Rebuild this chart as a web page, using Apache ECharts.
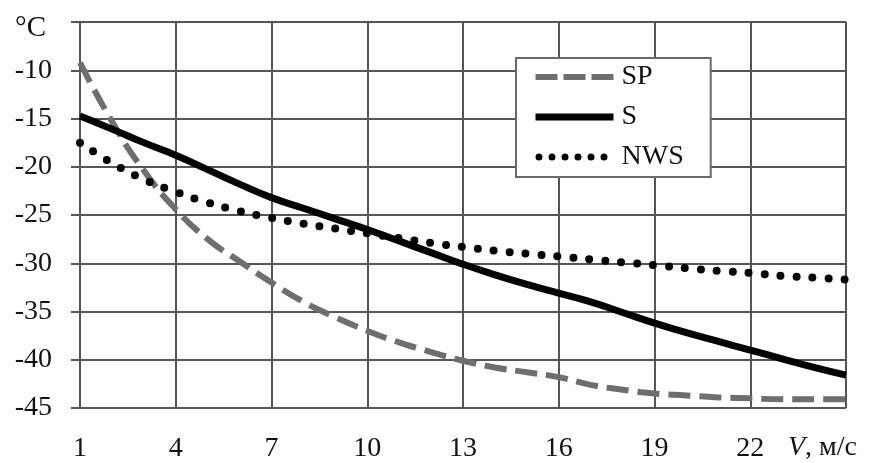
<!DOCTYPE html>
<html>
<head>
<meta charset="utf-8">
<script src="https://cdn.jsdelivr.net/npm/echarts@6/dist/echarts.min.js"></script>
<style>
html,body{margin:0;padding:0;background:#fff;}
#chart{width:872px;height:463px;}
</style>
</head>
<body>
<div id="chart"></div>
<script>
// Wind speed V, m/s
const speeds = [1,2,3,4,5,6,7,8,9,10,11,12,13,14,15,16,17,18,19,20,21,22,23,24,25];
// Temperature, °C
const spValues = [-9.2,-15.3,-20.4,-24.4,-27.5,-29.8,-32.0,-34.0,-35.6,-37.0,-38.2,-39.2,-40.1,-40.8,-41.3,-41.8,-42.6,-43.1,-43.5,-43.7,-43.9,-44.0,-44.1,-44.1,-44.1];
const sValues = [-14.75,-16.1,-17.5,-18.8,-20.3,-21.8,-23.2,-24.3,-25.4,-26.5,-27.7,-28.9,-30.1,-31.2,-32.2,-33.1,-34.0,-35.1,-36.2,-37.2,-38.1,-39.0,-39.9,-40.8,-41.6];
const nwsValues = [-17.5,-19.6,-21.3,-22.6,-23.7,-24.6,-25.3,-25.9,-26.4,-26.9,-27.4,-27.9,-28.3,-28.7,-29.0,-29.3,-29.6,-29.9,-30.2,-30.5,-30.8,-31.0,-31.3,-31.5,-31.7];
const seriesNames = ['SP','S','NWS'];
const yTopLabel = '°C';
const xAxisTitle = 'V';
const xAxisUnit = ', м/с';

const FONT = '"Liberation Serif", "Times New Roman", serif';
const GRIDC = '#555555';
const SPC = '#6e6e6e';

const chart = echarts.init(document.getElementById('chart'), null, {renderer:'canvas'});
chart.setOption({
  backgroundColor: '#ffffff',
  animation: false,
  grid: {left: 80, right: 26, top: 22, bottom: 54, containLabel: false},
  legend: {
    orient: 'vertical',
    left: 516, top: 58,
    padding: [5, 27, 6, 16],
    itemWidth: 78, itemHeight: 14, itemGap: 12,
    backgroundColor: '#ffffff',
    borderColor: '#6a6a6a', borderWidth: 2,
    itemStyle: {opacity: 0},
    textStyle: {fontFamily: FONT, fontSize: 28, color: '#111', lineHeight: 26, padding: [0,0,0,3]},
    data: [
      {name: seriesNames[0], lineStyle: {color: SPC, width: 6, type: [22, 6], cap: 'butt'}},
      {name: seriesNames[1], lineStyle: {color: '#000', width: 7, type: 'solid', cap: 'butt'}},
      {name: seriesNames[2], lineStyle: {color: '#000', width: 7, type: [0, 13], cap: 'round', dashOffset: -3.5}}
    ]
  },
  xAxis: {
    type: 'category',
    data: speeds.map(String),
    boundaryGap: false,
    axisLine: {show: false},
    axisTick: {show: false},
    axisLabel: {
      interval: 2, margin: 27,
      fontFamily: FONT, fontSize: 28, color: '#111',
      formatter: function (v, i) { return i === speeds.length - 1 ? '' : v; }
    },
    splitLine: {show: true, interval: 2, lineStyle: {color: GRIDC, width: 2}},
    name: '{i|' + xAxisTitle + '}' + xAxisUnit,
    nameLocation: 'end',
    nameGap: -58,
    nameTextStyle: {
      fontFamily: FONT, fontSize: 28, color: '#111',
      verticalAlign: 'top', align: 'left', padding: [26,0,0,0],
      rich: {i: {fontFamily: FONT, fontSize: 28, fontStyle: 'italic', color: '#111'}}
    }
  },
  yAxis: {
    type: 'value',
    min: -45, max: -5, interval: 5,
    axisLine: {show: false},
    axisTick: {show: true, length: 9, lineStyle: {color: GRIDC, width: 2}},
    axisLabel: {
      margin: 28,
      fontFamily: FONT, fontSize: 28, color: '#111',
      formatter: function (v) { return v === -5 ? '{c|' + yTopLabel + '}' : String(v); },
      rich: {c: {fontFamily: FONT, fontSize: 29, color: '#111', padding: [12, 6, 0, 0]}}
    },
    splitLine: {show: true, lineStyle: {color: GRIDC, width: 2}}
  },
  series: [
    {
      name: seriesNames[0], type: 'line', data: spValues, smooth: true,
      symbol: 'none', z: 3,
      lineStyle: {color: SPC, width: 6, type: [22, 9]},
      itemStyle: {color: SPC}
    },
    {
      name: seriesNames[1], type: 'line', data: sValues, smooth: true,
      symbol: 'none', z: 4,
      lineStyle: {color: '#000000', width: 7, type: 'solid'},
      itemStyle: {color: '#000000'}
    },
    {
      name: seriesNames[2], type: 'line', data: nwsValues, smooth: true,
      symbol: 'none', z: 5,
      lineStyle: {color: '#000000', width: 8, type: [0, 16], cap: 'round'},
      itemStyle: {color: '#000000'}
    }
  ]
});
</script>
</body>
</html>
